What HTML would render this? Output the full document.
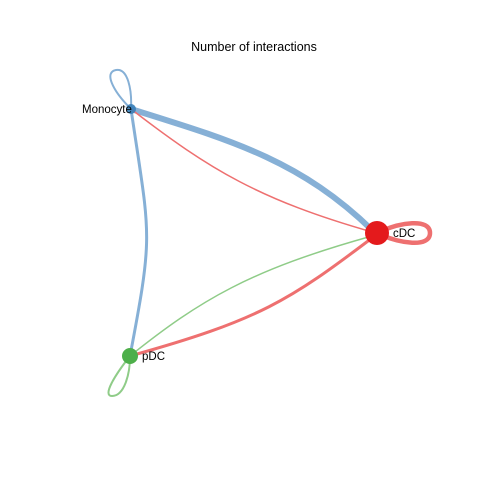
<!DOCTYPE html>
<html><head><style>body{margin:0;background:#fff}svg{display:block}text{font-family:"Liberation Sans",sans-serif}</style></head><body>
<svg width="480" height="480" viewBox="0 0 480 480">
<text x="254" y="51" font-size="12.5" text-anchor="middle">Number of interactions</text>
<path d="M131,109 C112,90 104,72 116,70 C128,68 132,90 131,109" fill="none" stroke="#86b0d6" stroke-width="2"/>
<path d="M377,233 C400,222 430,218 430,233 C430,248 400,244 377,233" fill="none" stroke="#ee7070" stroke-width="4.5"/>
<path d="M130,356 C115,375 102,396 112,396 C124,396 130,375 130,356" fill="none" stroke="#8fcc88" stroke-width="2"/>
<path d="M131,109 C150,238 154,230 130,356" fill="none" stroke="#86b0d6" stroke-width="3"/>
<path d="M131,109 C230,140 300,160 372,230" fill="none" stroke="#86b0d6" stroke-width="6"/>
<path d="M131,109 C210,170 260,200 372,232" fill="none" stroke="#ee7070" stroke-width="1.5"/>
<path d="M130,356 C200,300 250,270 372,236" fill="none" stroke="#8fcc88" stroke-width="1.5"/>
<path d="M130,356 C260,320 290,300 372,238" fill="none" stroke="#ee7070" stroke-width="3"/>
<circle cx="131" cy="109" r="5" fill="#377eb8" opacity="0.9"/>
<circle cx="377" cy="233" r="12" fill="#e41a1c"/>
<circle cx="130" cy="356" r="8" fill="#4daf4a"/>
<text x="82" y="113" font-size="11.5">Monocyte</text>
<text x="393" y="237" font-size="11.5">cDC</text>
<text x="142" y="360" font-size="11.5">pDC</text>
</svg>
</body></html>
